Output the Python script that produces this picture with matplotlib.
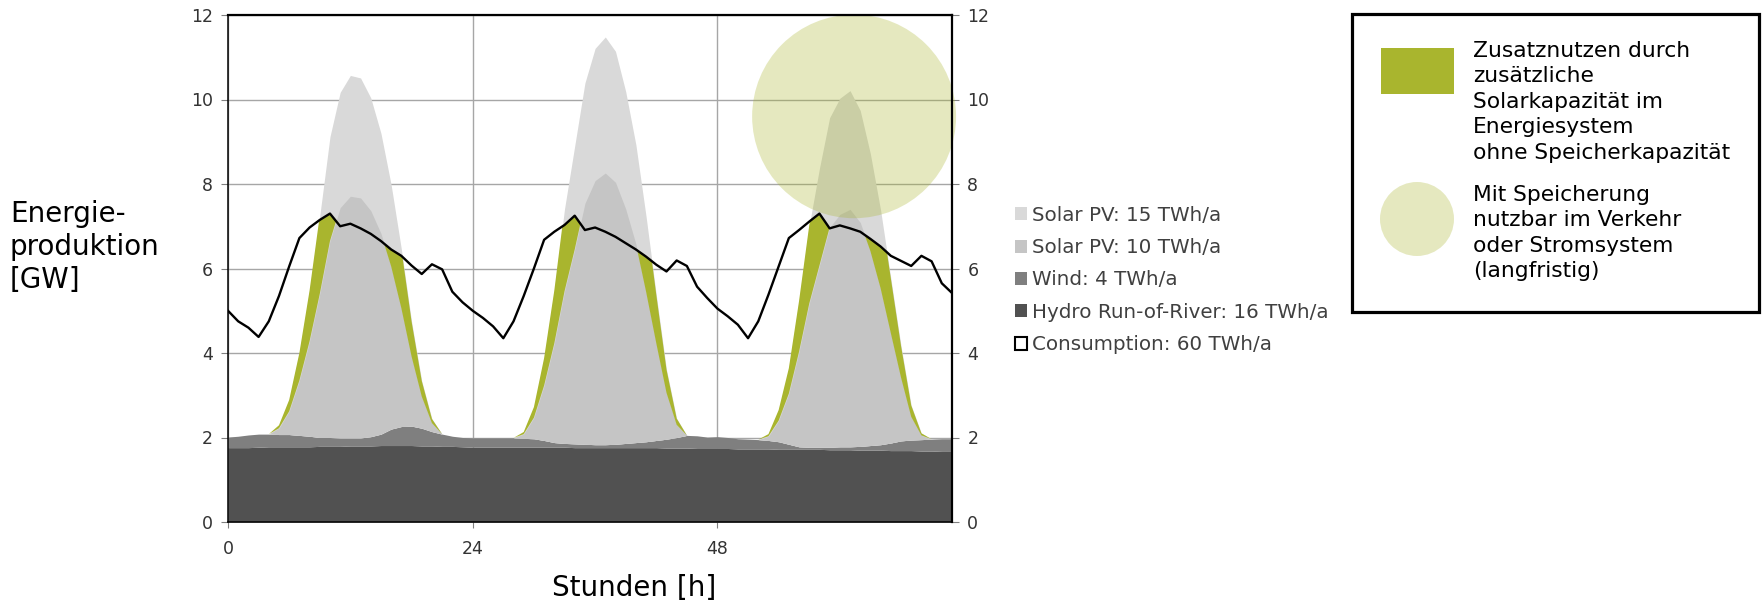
import numpy as np
import matplotlib
matplotlib.use('Agg')
import matplotlib.pyplot as plt
from matplotlib.patches import Patch, Ellipse, Rectangle

plt.rcParams['font.family'] = ['DejaVu Sans']

W, H = 1762, 602

hours = np.arange(72)

# GW, hour by hour (3 days)
hydro = np.array([
    1.76, 1.76, 1.76, 1.77, 1.78, 1.78, 1.78, 1.78, 1.78, 1.79, 1.79, 1.79,
    1.80, 1.80, 1.80, 1.81, 1.81, 1.81, 1.81, 1.80, 1.80, 1.79, 1.79, 1.78,
    1.77, 1.77, 1.77, 1.77, 1.77, 1.77, 1.77, 1.77, 1.77, 1.77, 1.76, 1.76,
    1.76, 1.76, 1.76, 1.76, 1.76, 1.76, 1.76, 1.75, 1.75, 1.75, 1.74, 1.74,
    1.74, 1.74, 1.73, 1.73, 1.73, 1.73, 1.72, 1.72, 1.72, 1.72, 1.72, 1.71,
    1.71, 1.71, 1.70, 1.70, 1.70, 1.69, 1.69, 1.69, 1.68, 1.68, 1.67, 1.67])

wind = np.array([
    0.25, 0.27, 0.30, 0.31, 0.30, 0.29, 0.29, 0.27, 0.25, 0.21, 0.21, 0.20,
    0.19, 0.19, 0.22, 0.27, 0.39, 0.45, 0.46, 0.42, 0.34, 0.29, 0.24, 0.22,
    0.22, 0.22, 0.22, 0.22, 0.22, 0.21, 0.20, 0.16, 0.11, 0.09, 0.09, 0.08,
    0.07, 0.07, 0.08, 0.10, 0.12, 0.14, 0.17, 0.21, 0.25, 0.30, 0.30, 0.27,
    0.28, 0.26, 0.24, 0.23, 0.22, 0.20, 0.18, 0.12, 0.06, 0.05, 0.05, 0.06,
    0.07, 0.07, 0.09, 0.11, 0.13, 0.18, 0.23, 0.25, 0.27, 0.28, 0.30, 0.30])

solar10 = np.array([
    0, 0, 0, 0, 0, 0.15, 0.55, 1.30, 2.25, 3.40, 4.65, 5.45,
    5.72, 5.68, 5.35, 4.75, 3.85, 2.80, 1.65, 0.75, 0.20, 0, 0, 0,
    0, 0, 0, 0, 0, 0.10, 0.50, 1.30, 2.35, 3.60, 4.60, 5.70,
    6.25, 6.43, 6.20, 5.55, 4.70, 3.55, 2.30, 1.10, 0.30, 0, 0, 0,
    0, 0, 0, 0, 0, 0.10, 0.50, 1.20, 2.25, 3.40, 4.30, 5.20,
    5.50, 5.62, 5.30, 4.60, 3.70, 2.60, 1.50, 0.55, 0.10, 0, 0, 0])

solar15 = np.array([
    0, 0, 0, 0, 0, 0.22, 0.82, 1.95, 3.45, 5.25, 7.12, 8.18,
    8.58, 8.52, 8.02, 7.12, 5.78, 4.20, 2.48, 1.12, 0.30, 0, 0, 0,
    0, 0, 0, 0, 0, 0.15, 0.75, 1.95, 3.60, 5.55, 7.05, 8.55,
    9.38, 9.65, 9.30, 8.33, 7.05, 5.33, 3.45, 1.65, 0.45, 0, 0, 0,
    0, 0, 0, 0, 0, 0.15, 0.75, 1.80, 3.45, 5.25, 6.60, 7.80,
    8.25, 8.43, 7.95, 6.90, 5.55, 3.90, 2.25, 0.82, 0.15, 0, 0, 0])

consumption = np.array([
    5.00, 4.75, 4.60, 4.38, 4.75, 5.35, 6.05, 6.72, 6.97, 7.15, 7.30, 7.00,
    7.06, 6.95, 6.82, 6.65, 6.45, 6.30, 6.07, 5.87, 6.10, 5.98, 5.45, 5.20,
    5.00, 4.83, 4.63, 4.35, 4.75, 5.35, 6.00, 6.68, 6.87, 7.03, 7.25, 6.91,
    6.97, 6.87, 6.75, 6.60, 6.45, 6.28, 6.09, 5.93, 6.19, 6.06, 5.57, 5.30,
    5.05, 4.87, 4.67, 4.35, 4.75, 5.38, 6.05, 6.72, 6.91, 7.11, 7.30, 6.95,
    7.02, 6.95, 6.87, 6.70, 6.52, 6.30, 6.18, 6.06, 6.30, 6.17, 5.65, 5.42])

labels = ['Solar PV: 15 TWh/a', 'Solar PV: 10 TWh/a', 'Wind: 4 TWh/a',
          'Hydro Run-of-River: 16 TWh/a', 'Consumption: 60 TWh/a']
c_s15, c_s10, c_wind, c_hydro = '#d9d9d9', '#c5c5c5', '#7f7f7f', '#515151'
green = '#a9b52e'

fig = plt.figure(figsize=(W / 100, H / 100), dpi=100)
ax = fig.add_axes([228 / W, 1 - 522 / H, 724 / W, 507 / H])

wtop = hydro + wind
s15top = wtop + solar15
s10top = wtop + solar10

ax.fill_between(hours, 0, hydro, color=c_hydro, lw=0)
ax.fill_between(hours, hydro, wtop, color=c_wind, lw=0)
ax.fill_between(hours, wtop, s15top, color=c_s15, lw=0)
ax.fill_between(hours, wtop, s10top, color=c_s10, lw=0)
ax.plot(hours, consumption, color='black', lw=1.7)

# extra solar energy that is still below consumption
xf = np.linspace(0, 71, 3551)
lo = np.interp(xf, hours, s10top)
hi = np.minimum(np.interp(xf, hours, s15top), np.interp(xf, hours, consumption))
ax.fill_between(xf, lo, hi, where=hi > lo, color=green, lw=0)

ax.add_patch(Ellipse((61.4, 9.6), 20.0, 4.82, color=green, alpha=0.3,
                     lw=0, clip_on=False))

ax.set_xlim(0, 71)
ax.set_ylim(0, 12)
ax.set_xticks([0, 24, 48])
ax.set_yticks(range(0, 13, 2))
ax.grid(True, color='#a6a6a6', lw=1.0)
ax.set_axisbelow(True)
ax.tick_params(axis='y', left=True, right=True, labelleft=True, labelright=True,
               length=5, pad=6, color='#808080', labelsize=12.5, labelcolor='#333333')
ax.tick_params(axis='x', length=4, pad=9, color='#808080', labelsize=12.5,
               labelcolor='#333333')
for s in ['top', 'right']:
    ax.spines[s].set_linewidth(1.6)
for s in ['left', 'bottom']:
    ax.spines[s].set_linewidth(1.1)

handles = [Patch(facecolor=c_s15), Patch(facecolor=c_s10), Patch(facecolor=c_wind),
           Patch(facecolor=c_hydro),
           Patch(facecolor='white', edgecolor='black', linewidth=1.5)]
leg = ax.legend(handles, labels, loc='center left',
                bbox_to_anchor=(1015 / W, 1 - 280 / H), bbox_transform=fig.transFigure,
                frameon=False, fontsize=14.3, handlelength=0.62, handleheight=0.62,
                handletextpad=0.25, labelspacing=0.67, borderpad=0, borderaxespad=0)
for t in leg.get_texts():
    t.set_color('#404040')

fig.text(10 / W, 1 - 200 / H, 'Energie-\nproduktion\n[GW]', fontsize=20,
         va='top', ha='left', linespacing=1.22)
fig.text(634 / W, 1 - 588 / H, 'Stunden [h]', fontsize=20, va='center', ha='center')

# explanation box
fig.add_artist(Rectangle((1352 / W, 1 - 312 / H), 407 / W, 298 / H,
                         transform=fig.transFigure, fill=False, ec='black', lw=2.3))
fig.add_artist(Rectangle((1381 / W, 1 - 94 / H), 73 / W, 46 / H,
                         transform=fig.transFigure, color=green, lw=0))
fig.add_artist(Ellipse((1417 / W, 1 - 219 / H), 74 / W, 74 / H,
                       transform=fig.transFigure, color=green, alpha=0.3, lw=0))
fig.text(1473 / W, 1 - 41 / H,
         'Zusatznutzen durch\nzusätzliche\nSolarkapazität im\nEnergiesystem\nohne Speicherkapazität',
         fontsize=15.7, va='top', ha='left', linespacing=1.34)
fig.text(1473 / W, 1 - 185 / H,
         'Mit Speicherung\nnutzbar im Verkehr\noder Stromsystem\n(langfristig)',
         fontsize=15.7, va='top', ha='left', linespacing=1.34)

fig.savefig('out.png', dpi=100)
